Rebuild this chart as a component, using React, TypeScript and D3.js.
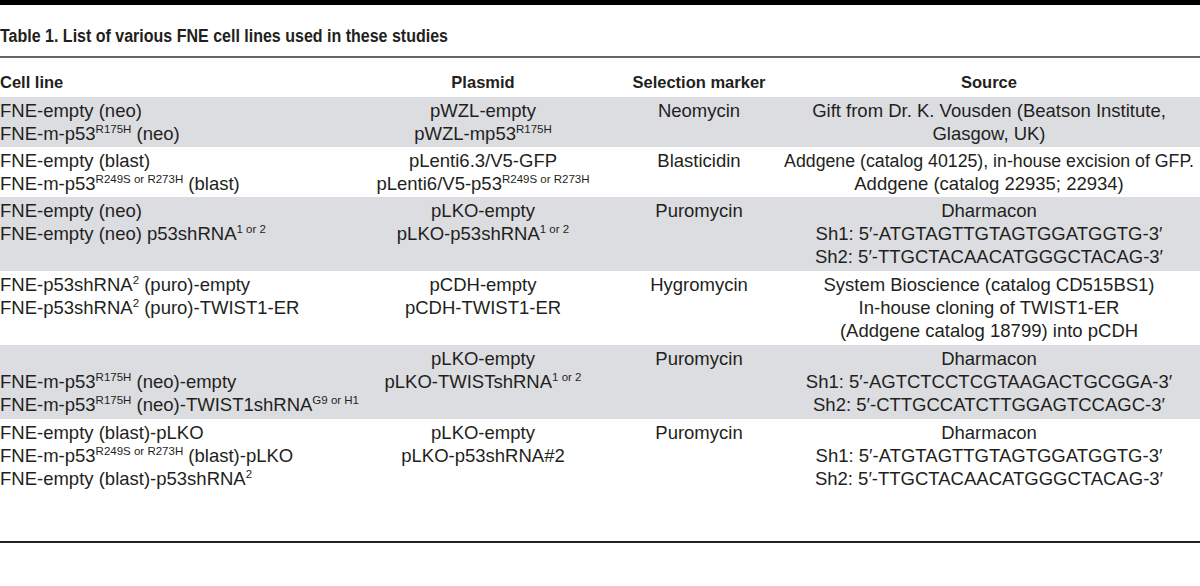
import React from 'react'
import * as d3 from 'd3'

// table content, ^{...} marks a superscript
const title = 'Table 1. List of various FNE cell lines used in these studies'
const columns = ['Cell line', 'Plasmid', 'Selection marker', 'Source']

const cellLines = [
  ['FNE-empty (neo)', 'FNE-m-p53^{R175H} (neo)'],
  ['FNE-empty (blast)', 'FNE-m-p53^{R249S or R273H} (blast)'],
  ['FNE-empty (neo)', 'FNE-empty (neo) p53shRNA^{1 or 2}'],
  ['FNE-p53shRNA^{2} (puro)-empty', 'FNE-p53shRNA^{2} (puro)-TWIST1-ER'],
  ['', 'FNE-m-p53^{R175H} (neo)-empty', 'FNE-m-p53^{R175H} (neo)-TWIST1shRNA^{G9 or H1}'],
  ['FNE-empty (blast)-pLKO', 'FNE-m-p53^{R249S or R273H} (blast)-pLKO', 'FNE-empty (blast)-p53shRNA^{2}'],
]

const plasmids = [
  ['pWZL-empty', 'pWZL-mp53^{R175H}'],
  ['pLenti6.3/V5-GFP', 'pLenti6/V5-p53^{R249S or R273H}'],
  ['pLKO-empty', 'pLKO-p53shRNA^{1 or 2}'],
  ['pCDH-empty', 'pCDH-TWIST1-ER'],
  ['pLKO-empty', 'pLKO-TWISTshRNA^{1 or 2}'],
  ['pLKO-empty', 'pLKO-p53shRNA#2'],
]

const markers = [
  ['Neomycin'],
  ['Blasticidin'],
  ['Puromycin'],
  ['Hygromycin'],
  ['Puromycin'],
  ['Puromycin'],
]

const sources = [
  ['Gift from Dr. K. Vousden (Beatson Institute,', 'Glasgow, UK)'],
  ['Addgene (catalog 40125), in-house excision of GFP.', 'Addgene (catalog 22935; 22934)'],
  ['Dharmacon', 'Sh1: 5\u2032-ATGTAGTTGTAGTGGATGGTG-3\u2032', 'Sh2: 5\u2032-TTGCTACAACATGGGCTACAG-3\u2032'],
  ['System Bioscience (catalog CD515BS1)', 'In-house cloning of TWIST1-ER', '(Addgene catalog 18799) into pCDH'],
  ['Dharmacon', 'Sh1: 5\u2032-AGTCTCCTCGTAAGACTGCGGA-3\u2032', 'Sh2: 5\u2032-CTTGCCATCTTGGAGTCCAGC-3\u2032'],
  ['Dharmacon', 'Sh1: 5\u2032-ATGTAGTTGTAGTGGATGGTG-3\u2032', 'Sh2: 5\u2032-TTGCTACAACATGGGCTACAG-3\u2032'],
]

const W = 1200
const H = 586
const FONT = '"Liberation Sans", Arial, sans-serif'
const INK = '#231f20'
const GRAY = '#dcdde0'
const BODY = 18.5
const SUP = 11.5
const LINE_H = 23
const tableTop = 97
const maxSourceW = 410

const colX = d3.scaleOrdinal<string, number>().domain(columns).range([0, 483, 699, 989])
const colAnchor = (c: string) => (c === 'Cell line' ? 'start' : 'middle')

let ctx: CanvasRenderingContext2D | null = null
function measure(s: string, size: number, bold = false) {
  if (!ctx) ctx = document.createElement('canvas').getContext('2d')
  if (!ctx) return 0
  ctx.font = `${bold ? 'bold ' : ''}${size}px ${FONT}`
  return ctx.measureText(s).width
}

function parseSup(s: string) {
  const parts: { t: string; sup: boolean }[] = []
  const re = /\^\{([^}]*)\}/g
  let last = 0
  let m
  while ((m = re.exec(s)) !== null) {
    if (m.index > last) parts.push({ t: s.slice(last, m.index), sup: false })
    parts.push({ t: m[1], sup: true })
    last = re.lastIndex
  }
  if (last < s.length) parts.push({ t: s.slice(last), sup: false })
  return parts
}

function RichText({ x, y, text, anchor, maxW }: { x: number; y: number; text: string; anchor: string; maxW?: number }) {
  const parts = parseSup(text)
  const width = d3.sum(parts, (p) => measure(p.t, p.sup ? SUP : BODY))
  // shrink a line that would not fit, instead of stretching glyphs
  const k = maxW && width > maxW ? maxW / width : 1
  let shift = 0
  return (
    <text x={x} y={y} textAnchor={anchor} fontFamily={FONT} fontSize={BODY * k} fill={INK}>
      {parts.map((p, i) => {
        const target = p.sup ? -7 : 0
        const dy = target - shift
        shift = target
        return (
          <tspan key={i} dy={dy} fontSize={(p.sup ? SUP : BODY) * k}>
            {p.t}
          </tspan>
        )
      })}
    </text>
  )
}

export default function App() {
  const rows = cellLines.map((c, i) => ({
    cells: [c, plasmids[i], markers[i], sources[i]],
  }))
  const heights = rows.map((r) => d3.max(r.cells, (c) => c.length)! * 24 + 2)
  const tops = [tableTop, ...Array.from(d3.cumsum(heights)).map((v) => tableTop + v)]

  return (
    <svg width={W} height={H} style={{ position: 'absolute', left: 0, top: 0, background: '#fff' }}>
      <rect x={0} y={0} width={W} height={5} fill="#000" />
      <text x={0} y={42} fontFamily={FONT} fontSize={18} fontWeight="bold" fill={INK}
        textLength={448} lengthAdjust="spacingAndGlyphs">
        {title}
      </text>
      <line x1={0} x2={W} y1={57} y2={57} stroke="#333" strokeWidth={1.5} />

      {columns.map((c) => (
        <text key={c} x={colX(c)} y={88} textAnchor={colAnchor(c)} fontFamily={FONT}
          fontSize={16.5} fontWeight="bold" fill={INK}>
          {c}
        </text>
      ))}

      {rows.map((r, i) => (
        <g key={i}>
          <rect x={0} y={tops[i]} width={W} height={heights[i]} fill={i % 2 === 0 ? GRAY : '#fff'} />
          {r.cells.map((lines, ci) =>
            lines.map((ln, li) => (
              <RichText key={ci + '-' + li} x={colX(columns[ci])} y={tops[i] + 20 + li * LINE_H}
                text={ln} anchor={colAnchor(columns[ci])}
                maxW={columns[ci] === 'Source' ? maxSourceW : undefined} />
            ))
          )}
        </g>
      ))}

      <line x1={0} x2={W} y1={542} y2={542} stroke="#222" strokeWidth={2} />
    </svg>
  )
}
